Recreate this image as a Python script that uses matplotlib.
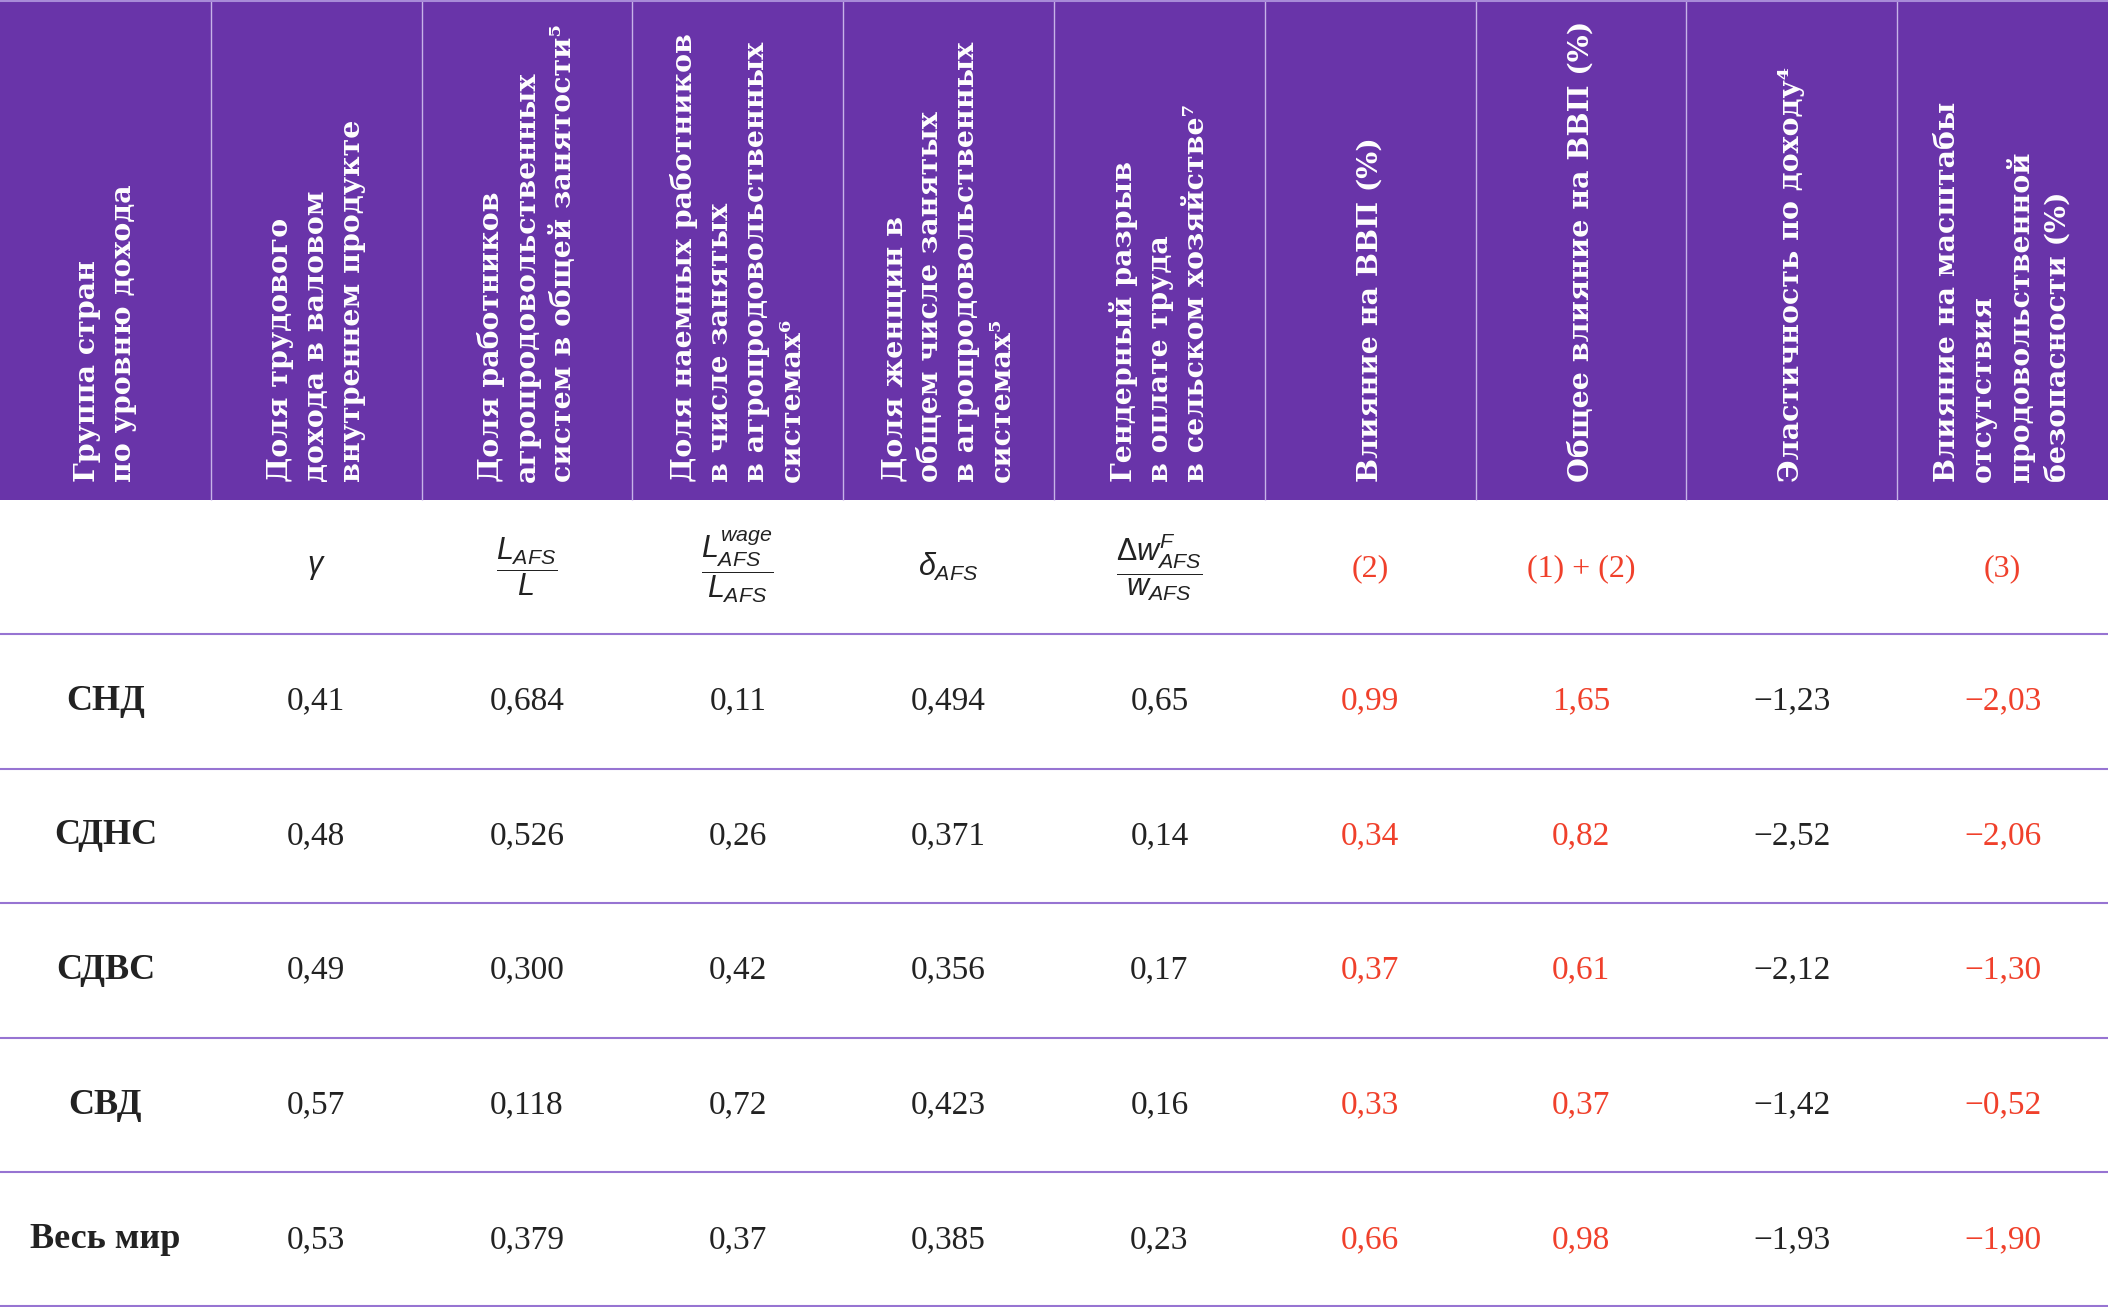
import numpy as np
import matplotlib.pyplot as plt
from matplotlib.patches import Rectangle

plt.rcParams['mathtext.fontset'] = 'custom'
plt.rcParams['mathtext.rm'] = 'Liberation Sans'
plt.rcParams['mathtext.it'] = 'Liberation Sans:italic'

# data
groups = ['СНД', 'СДНС', 'СДВС', 'СВД', 'Весь мир']
labor_share = [0.41, 0.48, 0.49, 0.57, 0.53]
afs_employment = [0.684, 0.526, 0.300, 0.118, 0.379]
wage_share = [0.11, 0.26, 0.42, 0.72, 0.37]
women_share = [0.494, 0.371, 0.356, 0.423, 0.385]
gender_gap = [0.65, 0.14, 0.17, 0.16, 0.23]
gdp_effect = [0.99, 0.34, 0.37, 0.33, 0.66]
gdp_total = [1.65, 0.82, 0.61, 0.37, 0.98]
income_elasticity = [-1.23, -2.52, -2.12, -1.42, -1.93]
food_insecurity = [-2.03, -2.06, -1.30, -0.52, -1.90]

headers = [
    'Группа стран\nпо уровню дохода',
    'Доля трудового\nдохода в валовом\nвнутреннем продукте',
    'Доля работников\nагропродовольственных\nсистем в общей занятости⁵',
    'Доля наемных работников\nв числе занятых\nв агропродовольственных\nсистемах⁶',
    'Доля женщин в\nобщем числе занятых\nв агропродовольственных\nсистемах⁵',
    'Гендерный разрыв\nв оплате труда\nв сельском хозяйстве⁷',
    'Влияние на ВВП (%)',
    'Общее влияние на ВВП (%)',
    'Эластичность по доходу⁴',
    'Влияние на масштабы\nотсутствия\nпродовольственной\nбезопасности (%)',
]
formulas = ['', r'$\gamma$', r'$\dfrac{L_{AFS}}{L}$', r'$\dfrac{L_{AFS}^{wage}}{L_{AFS}}$',
            r'$\delta_{AFS}$', r'$\dfrac{\Delta w_{AFS}^{F}}{w_{AFS}}$',
            '(2)', '(1) + (2)', '', '(3)']

columns = [labor_share, afs_employment, wage_share, women_share, gender_gap,
           gdp_effect, gdp_total, income_elasticity, food_insecurity]
decimals = [2, 3, 2, 3, 2, 2, 2, 2, 2]
red_cols = [6, 7, 9]   # table column index

PURPLE = '#6934A9'
RED = '#F0402B'
LINE = '#9774D2'
DARK = '#222222'

W, H = 2108, 1307
header_h = 500
formula_h = 134
ncol = len(headers)
col_w = W / ncol
row_h = (H - header_h - formula_h) / len(groups)

fig = plt.figure(figsize=(W / 100, H / 100), dpi=100)
ax = fig.add_axes([0, 0, 1, 1])
ax.set_xlim(0, W)
ax.set_ylim(H, 0)
ax.axis('off')

# header
ax.add_patch(Rectangle((0, 0), W, header_h, color=PURPLE, lw=0))
ax.vlines([col_w * i for i in range(1, ncol)], 0, header_h, color='#C7B3E8', lw=1)
ax.axhline(1, color='#A88BD8', lw=1.5)
for i, txt in enumerate(headers):
    ax.text(col_w * (i + 0.5), header_h - 18, txt, rotation=90, ha='center', va='bottom',
            multialignment='left', color='white', fontsize=20.5, family='DejaVu Serif',
            fontweight='bold', linespacing=1.42)

# formula row
fy = header_h + formula_h / 2
for i, f in enumerate(formulas):
    if not f:
        continue
    if f.startswith('$'):
        ax.text(col_w * (i + 0.5), fy, f, ha='center', va='center', fontsize=22, color=DARK)
    else:
        ax.text(col_w * (i + 0.5), fy + 2, f, ha='center', va='center', fontsize=23,
                family='Liberation Serif', color=RED)

# data rows
top = header_h + formula_h
for r, g in enumerate(groups):
    cy = top + row_h * (r + 0.5)
    ax.text(col_w * 0.5, cy, g, ha='center', va='center', fontsize=26,
            family='Liberation Serif', fontweight='bold', color=DARK)
    for c, vals in enumerate(columns):
        s = f'{vals[r]:.{decimals[c]}f}'.replace('.', ',').replace('-', '−')
        ax.text(col_w * (c + 1.5), cy, s, ha='center', va='center', fontsize=24,
                family='Liberation Serif', color=RED if c + 1 in red_cols else DARK)

ax.hlines([top + row_h * i for i in range(len(groups))] + [H - 1.5], 0, W, color=LINE, lw=1.5)

fig.savefig('out.png', dpi=100)
